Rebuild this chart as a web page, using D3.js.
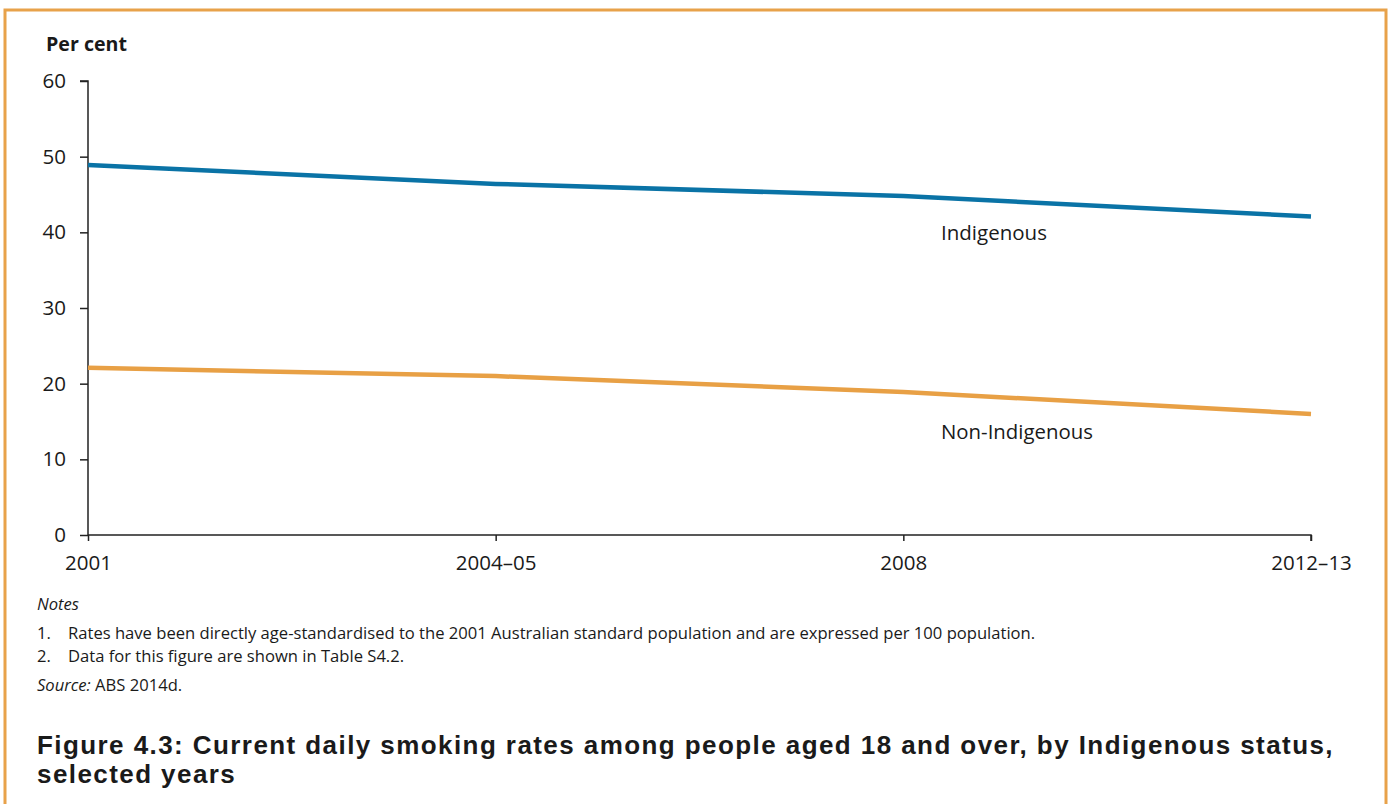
<!DOCTYPE html>
<html><head><meta charset="utf-8">
<script src="https://cdn.jsdelivr.net/npm/d3@7"></script>
<style>body{margin:0;background:#fff}svg{display:block}text{font-family:"Open Sans",Lato,sans-serif;fill:#1a1a1a}</style>
</head><body><svg id="c" width="1389" height="804"></svg>
<script>
const periods = ["2001","2004\u201305","2008","2012\u201313"];
const indigenous = [48.9, 46.4, 44.8, 42.1];
const nonIndigenous = [22.1, 21.0, 18.9, 16.0];
const yTicks = [0,10,20,30,40,50,60];
const seriesNames = ["Indigenous","Non-Indigenous"];
const notes = ["Rates have been directly age-standardised to the 2001 Australian standard population and are expressed per 100 population.","Data for this figure are shown in Table S4.2."];
const titleLines = ["Figure 4.3: Current daily smoking rates among people aged 18 and over, by Indigenous status,","selected years"];

const svg = d3.select("#c");
const FONT = "'Open Sans',Lato,sans-serif";
function fit(sel, w){ const n=sel.node(); const fs=parseFloat(sel.attr("font-size")); const m=n.getComputedTextLength(); const nf=fs*w/m; sel.attr("font-size",nf); return nf; }

svg.append("rect").attr("x",5).attr("y",10).attr("width",1381).attr("height",820)
  .attr("fill","none").attr("stroke","#e8a24a").attr("stroke-width",3);

const x = d3.scalePoint().domain(periods).range([88,1311]);
const y = d3.scaleLinear().domain([0,60]).range([535,81]);

const probe = svg.append("text").attr("font-size",20).style("font-family",FONT).text("2008");
const tickFs = fit(probe, 47); probe.remove();

const ya = svg.append("g").attr("transform","translate(88,0)")
  .call(d3.axisLeft(y).tickValues(yTicks).tickSize(8).tickPadding(14));
const xa = svg.append("g").attr("transform","translate(0,535)")
  .call(d3.axisBottom(x).tickSize(6).tickPadding(8));
[ya,xa].forEach(a=>{a.attr("font-family",null).attr("font-size",null);
  a.select(".domain").attr("stroke","#222").attr("stroke-width",1.5);
  a.selectAll(".tick line").attr("stroke","#222").attr("stroke-width",1.5);
  a.selectAll("text").attr("font-size",tickFs).attr("fill","#1a1a1a").style("font-family",FONT);});
xa.selectAll(".tick text").attr("y",35).attr("dy",null);
ya.select(".domain").attr("d","M-8,81H0V535");
xa.select(".domain").attr("d","M88,0H1311V6");

const line = d3.line().x((d,i)=>x(periods[i])).y(d=>y(d));
svg.append("path").datum(indigenous).attr("d",line).attr("fill","none").attr("stroke","#0a73a6").attr("stroke-width",4.5);
svg.append("path").datum(nonIndigenous).attr("d",line).attr("fill","none").attr("stroke","#e8a045").attr("stroke-width",4.5);

fit(svg.append("text").attr("x",941).attr("y",240).attr("font-size",19).text(seriesNames[0]),106);
fit(svg.append("text").attr("x",941).attr("y",439).attr("font-size",19).text(seriesNames[1]),152);

fit(svg.append("text").attr("x",46).attr("y",51).attr("font-size",18).attr("font-weight","bold").text("Per cent"),81);

const nfs = fit(svg.append("text").attr("x",68).attr("y",639).attr("font-size",15).text(notes[0]),968);
svg.append("text").attr("x",68).attr("y",662).attr("font-size",nfs).text(notes[1]);
notes.forEach((n,i)=>{
  svg.append("text").attr("x",37).attr("y",639+i*23).attr("font-size",nfs).text((i+1)+".");
});
svg.append("text").attr("x",37).attr("y",610).attr("font-size",nfs).attr("font-style","italic").text("Notes");
const s = svg.append("text").attr("x",37).attr("y",691).attr("font-size",nfs);
s.append("tspan").attr("font-style","italic").text("Source:");
s.append("tspan").text(" ABS 2014d.");

const TF = "'Liberation Sans',Arial,sans-serif";
const t1 = svg.append("text").attr("x",37).attr("y",754).attr("font-size",25).attr("font-weight","bold").style("font-family",TF).text(titleLines[0]);
const tfs = Math.min(26, fit(t1,1297));
t1.attr("font-size",tfs);
const tls = Math.max(0,(1297 - t1.node().getComputedTextLength())/titleLines[0].length);
t1.attr("letter-spacing",tls);
svg.append("text").attr("x",37).attr("y",783).attr("font-size",tfs).attr("font-weight","bold").attr("letter-spacing",tls).style("font-family",TF).text(titleLines[1]);
</script></body></html>
